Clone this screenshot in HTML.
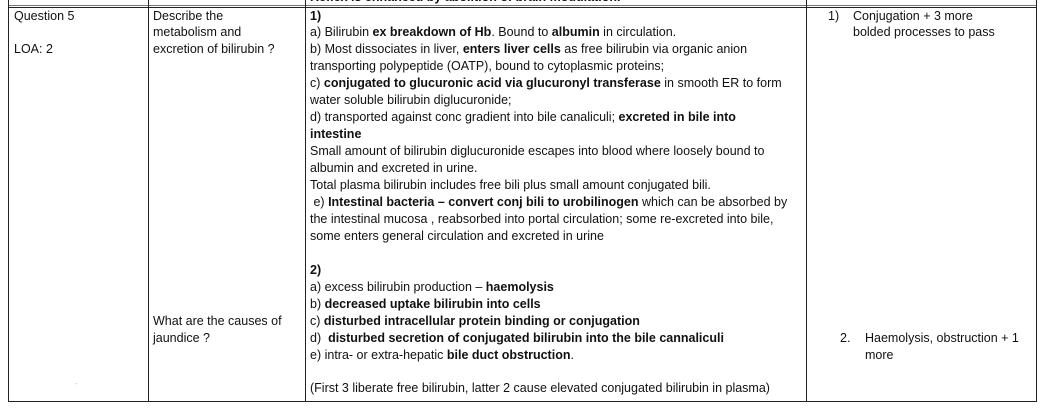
<!DOCTYPE html>
<html><head><meta charset="utf-8"><style>
body{margin:0;width:1045px;height:409px;overflow:hidden;background:#fff;font-family:"Liberation Sans",sans-serif;font-size:12.5px;color:#111}
.t{position:absolute;line-height:16.95px;white-space:nowrap}
.v{position:absolute;background:#222;width:1px}
.h{position:absolute;background:#222;height:1px}
b{font-weight:bold}
</style></head><body>
<div>
<div class="h" style="left:8px;top:5px;width:1029px;background:#777"></div>
<div class="h" style="left:8px;top:7px;width:1029px"></div>
<div class="h" style="left:8px;top:401px;width:1029px"></div>
<div class="v" style="left:8px;top:0;height:402px"></div>
<div class="v" style="left:148px;top:0;height:402px"></div>
<div class="v" style="left:305px;top:0;height:402px"></div>
<div class="v" style="left:806px;top:0;height:402px"></div>
<div class="v" style="left:1036px;top:0;height:402px"></div>
</div>
<div class="t" style="left:310px;top:-11px"><b>Reflex is enhanced by abolition of brain modulation.</b></div>
<div class="t" style="left:14px;top:7.5px">Question 5<br><br>LOA: 2</div>
<div class="t" style="left:153px;top:7.5px">Describe the<br>metabolism and<br>excretion of bilirubin ?</div>
<div class="t" style="left:153px;top:313px">What are the causes of<br>jaundice ?</div>
<div class="t" style="left:310px;top:7.5px">
<b>1)</b><br>
a) Bilirubin <b>ex breakdown of Hb</b>. Bound to <b>albumin</b> in circulation.<br>
b) Most dissociates in liver, <b>enters liver cells</b> as free bilirubin via organic anion<br>
transporting polypeptide (OATP), bound to cytoplasmic proteins;<br>
c) <b>conjugated to glucuronic acid via glucuronyl transferase</b> in smooth ER to form<br>
water soluble bilirubin diglucuronide;<br>
d) transported against conc gradient into bile canaliculi; <b>excreted in bile into</b><br>
<b>intestine</b><br>
Small amount of bilirubin diglucuronide escapes into blood where loosely bound to<br>
albumin and excreted in urine.<br>
Total plasma bilirubin includes free bili plus small amount conjugated bili.<br>
&nbsp;e) <b>Intestinal bacteria – convert conj bili to urobilinogen</b> which can be absorbed by<br>
the intestinal mucosa , reabsorbed into portal circulation; some re-excreted into bile,<br>
some enters general circulation and excreted in urine<br>
<br>
<b>2)</b><br>
a) excess bilirubin production – <b>haemolysis</b><br>
b) <b>decreased uptake bilirubin into cells</b><br>
c) <b>disturbed intracellular protein binding or conjugation</b><br>
d) &nbsp;<b>disturbed secretion of conjugated bilirubin into the bile cannaliculi</b><br>
e) intra- or extra-hepatic <b>bile duct obstruction</b>.<br>
<br>
(First 3 liberate free bilirubin, latter 2 cause elevated conjugated bilirubin in plasma)
</div>
<div class="t" style="left:828px;top:7.5px">1)</div>
<div class="t" style="left:853px;top:7.5px">Conjugation + 3 more<br>bolded processes to pass</div>
<div class="t" style="left:840px;top:330px">2.</div>
<div class="t" style="left:865px;top:330px">Haemolysis, obstruction + 1<br>more</div>
<div class="t" style="left:75px;top:376px;color:#bbb;font-size:8px">-</div>
</body></html>
